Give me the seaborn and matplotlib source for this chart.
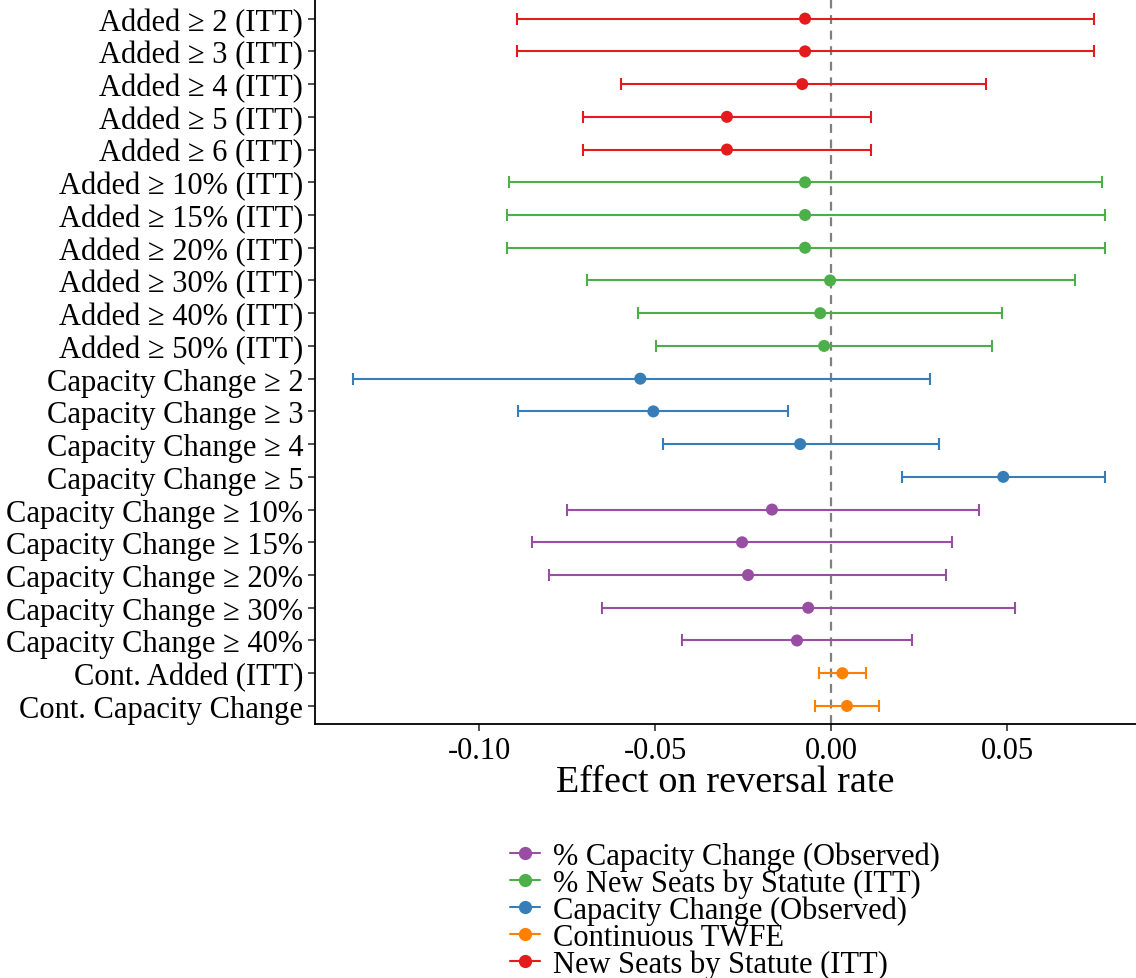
import pandas as pd
import numpy as np
from matplotlib import pyplot as plt
from matplotlib.lines import Line2D
import seaborn as sns

labels = [
    "Added \u2265 2 (ITT)", "Added \u2265 3 (ITT)", "Added \u2265 4 (ITT)",
    "Added \u2265 5 (ITT)", "Added \u2265 6 (ITT)",
    "Added \u2265 10% (ITT)", "Added \u2265 15% (ITT)", "Added \u2265 20% (ITT)",
    "Added \u2265 30% (ITT)", "Added \u2265 40% (ITT)", "Added \u2265 50% (ITT)",
    "Capacity Change \u2265 2", "Capacity Change \u2265 3",
    "Capacity Change \u2265 4", "Capacity Change \u2265 5",
    "Capacity Change \u2265 10%", "Capacity Change \u2265 15%",
    "Capacity Change \u2265 20%", "Capacity Change \u2265 30%",
    "Capacity Change \u2265 40%",
    "Cont. Added (ITT)", "Cont. Capacity Change",
]
groups = (["New Seats by Statute (ITT)"] * 5
          + ["% New Seats by Statute (ITT)"] * 6
          + ["Capacity Change (Observed)"] * 4
          + ["% Capacity Change (Observed)"] * 5
          + ["Continuous TWFE"] * 2)
estimate = [-0.0074, -0.0074, -0.0082, -0.0296, -0.0296,
            -0.0074, -0.0074, -0.0074, -0.0003, -0.0031, -0.0020,
            -0.0542, -0.0505, -0.0088, 0.0489,
            -0.0168, -0.0253, -0.0236, -0.0065, -0.0097,
            0.0032, 0.0045]
ci_low = [-0.0891, -0.0891, -0.0597, -0.0705, -0.0705,
          -0.0916, -0.0920, -0.0920, -0.0693, -0.0548, -0.0497,
          -0.1359, -0.0888, -0.0477, 0.0202,
          -0.0750, -0.0849, -0.0801, -0.0651, -0.0423,
          -0.0035, -0.0046]
ci_high = [0.0747, 0.0747, 0.0440, 0.0114, 0.0114,
           0.0770, 0.0778, 0.0778, 0.0693, 0.0486, 0.0457,
           0.0281, -0.0122, 0.0307, 0.0778,
           0.0420, 0.0344, 0.0327, 0.0523, 0.0230,
           0.0100, 0.0135]

legend_order = ["% Capacity Change (Observed)", "% New Seats by Statute (ITT)",
                "Capacity Change (Observed)", "Continuous TWFE",
                "New Seats by Statute (ITT)"]
palette = {
    "% Capacity Change (Observed)": "#984EA3",
    "% New Seats by Statute (ITT)": "#4DAF4A",
    "Capacity Change (Observed)": "#377EB8",
    "Continuous TWFE": "#FF7F00",
    "New Seats by Statute (ITT)": "#E41A1C",
}

df = pd.DataFrame({"label": labels, "group": groups, "est": estimate,
                   "lo": ci_low, "hi": ci_high})

sns.set_style("ticks")
plt.rcParams["font.family"] = ["Liberation Serif", "DejaVu Serif"]
plt.rcParams["axes.unicode_minus"] = False
plt.rcParams["text.color"] = "black"
plt.rcParams["axes.labelcolor"] = "black"

fig = plt.figure(figsize=(11.36, 9.79), dpi=100)
ax = fig.add_axes([0.2773, 0.2595, 0.7227, 0.7405])

# points first so the category order on y follows the rows
sns.scatterplot(data=df, x="est", y="label", hue="group", palette=palette,
                s=75, edgecolor="none", legend=False, ax=ax, zorder=3)

ax.axvline(0, color="grey", linestyle=(0, (4, 3)), linewidth=1.6, zorder=1)

for g, sub in df.groupby("group"):
    ax.errorbar(x=sub["est"], y=sub["label"],
                xerr=[sub["est"] - sub["lo"], sub["hi"] - sub["est"]],
                fmt="none", ecolor=palette[g], elinewidth=1.5,
                capsize=4.5, capthick=1.5, zorder=2)

ax.set_ylim(len(labels) - 0.45, -0.6)
ax.set_xlim(-0.1466, 0.0866)
ax.set_xticks([-0.10, -0.05, 0.00, 0.05])
ax.set_xticklabels(["-0.10", "-0.05", "0.00", "0.05"])
ax.set_ylabel("")
ax.set_xlabel("Effect on reversal rate", fontsize=27.5, labelpad=0)
ax.tick_params(axis="both", labelsize=22, colors="#333333", length=5,
               width=1.2, labelcolor="black")
sns.despine(ax=ax)
for s in ["left", "bottom"]:
    ax.spines[s].set_linewidth(1.3)
    ax.spines[s].set_color("black")

handles = [Line2D([0], [0], color=palette[g], marker="o", markersize=8.5,
                  linewidth=1.5) for g in legend_order]
fig.legend(handles, legend_order, loc="upper center",
           bbox_to_anchor=(0.638, 0.152), frameon=False, fontsize=22,
           handlelength=1.0, handletextpad=0.4, labelspacing=-0.08,
           borderaxespad=0)

fig.savefig("out.png", dpi=100)
